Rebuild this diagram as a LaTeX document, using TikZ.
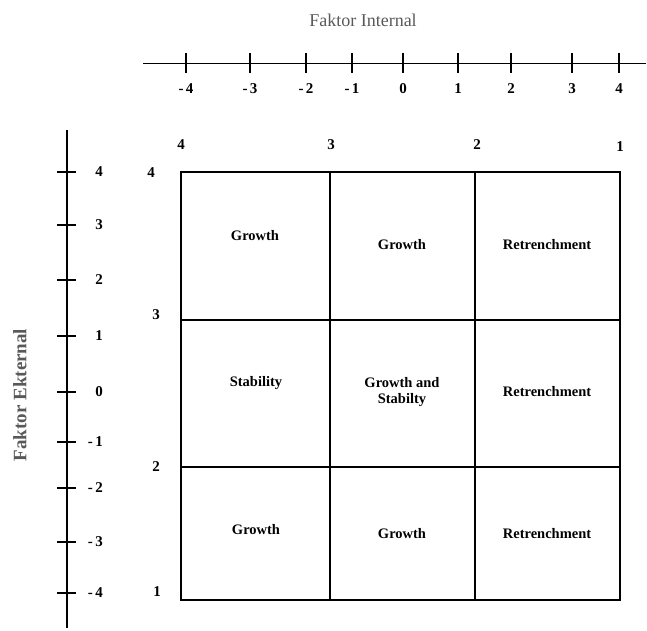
\documentclass[tikz,border=0pt]{standalone}
\usepackage{fontspec}
\setmainfont{Liberation Serif}
\usetikzlibrary{
    positioning
}
\def\gridline{1.4pt}
\tikzset{
    cell/.style={
        font=\bfseries\fontsize{14.5}{16}\selectfont,
        align=center,
        inner sep=1pt,
    },
    tick label/.style={
        font=\bfseries\fontsize{15}{16}\selectfont,
        inner sep=1pt,
    },
    corner label/.style={
        font=\bfseries\fontsize{15}{16}\selectfont,
        inner sep=1pt,
    },
    axis title/.style={
        font=\fontsize{18}{20}\selectfont,
        text=black!65,
    },
}

\begin{document}
\begin{tikzpicture}[x=1pt, y=-1pt]
        \useasboundingbox (0,0) rectangle (647,630);

        % faktor internal (top axis)
        \node[axis title] (internal) at (363,20) {Faktor Internal};
        \coordinate (hstart) at (143,63);
        \coordinate (hend) at (646,63);
        \draw [line width=1pt](hstart) -- (hend);
        \foreach \x/\lab [count=\i] in {186/-\,4, 250/-\,3, 306/-\,2, 352/-\,1, 403/0, 458/1, 511/2, 572/3, 619/4}{
            \draw [line width=1.3pt](\x,53) -- (\x,73);
            \node[tick label] (h\i) at (\x,89) {\lab};
        }

        % faktor eksternal (left axis)
        \node[axis title, font=\bfseries\fontsize{19}{20}\selectfont, rotate=90] (external) at (20,395) {Faktor Ekternal};
        \coordinate (vstart) at (67,130);
        \coordinate (vend) at (67,628);
        \draw [line width=1.4pt](vstart) -- (vend);
        \foreach \y/\lab [count=\i] in {172/4, 225/3, 280/2, 336/1, 392/0, 442/-\,1, 488/-\,2, 542/-\,3, 593/-\,4}{
            \draw [line width=1.2pt](57,\y) -- (76,\y);
            \node[tick label, anchor=east] (v\i) at (104,\y) {\lab};
        }

        % matrix
        \coordinate (nw) at (181,172);
        \coordinate (se) at (620,600);
        \draw [line width=\gridline](nw) rectangle (se);
        \draw [line width=1.8pt](330,172) -- (330,600);
        \draw [line width=\gridline](475,172) -- (475,600);
        \draw [line width=\gridline](181,320) -- (620,320);
        \draw [line width=1.8pt](181,467) -- (620,467);

        \node[corner label] (top4) at (181,145) {4};
        \node[corner label] (top3) at (331,145) {3};
        \node[corner label] (top2) at (477,145) {2};
        \node[corner label] (top1) at (620,147) {1};
        \node[corner label] (left4) at (151,173) {4};
        \node[corner label] (left3) at (156,315) {3};
        \node[corner label] (left2) at (156,467) {2};
        \node[corner label] (left1) at (157,592) {1};

        \node[cell] (c11) at (255,236) {Growth};
        \node[cell] (c12) at (402,245) {Growth};
        \node[cell] (c13) at (547,245) {Retrenchment};
        \node[cell] (c21) at (256,383) {Stability};
        \node[cell] (c22) at (402,392) {Growth and\\Stabilty};
        \node[cell] (c23) at (547,392) {Retrenchment};
        \node[cell] (c31) at (256,530) {Growth};
        \node[cell] (c32) at (402,534) {Growth};
        \node[cell] (c33) at (547,534) {Retrenchment};

    \end{tikzpicture}
\end{document}
